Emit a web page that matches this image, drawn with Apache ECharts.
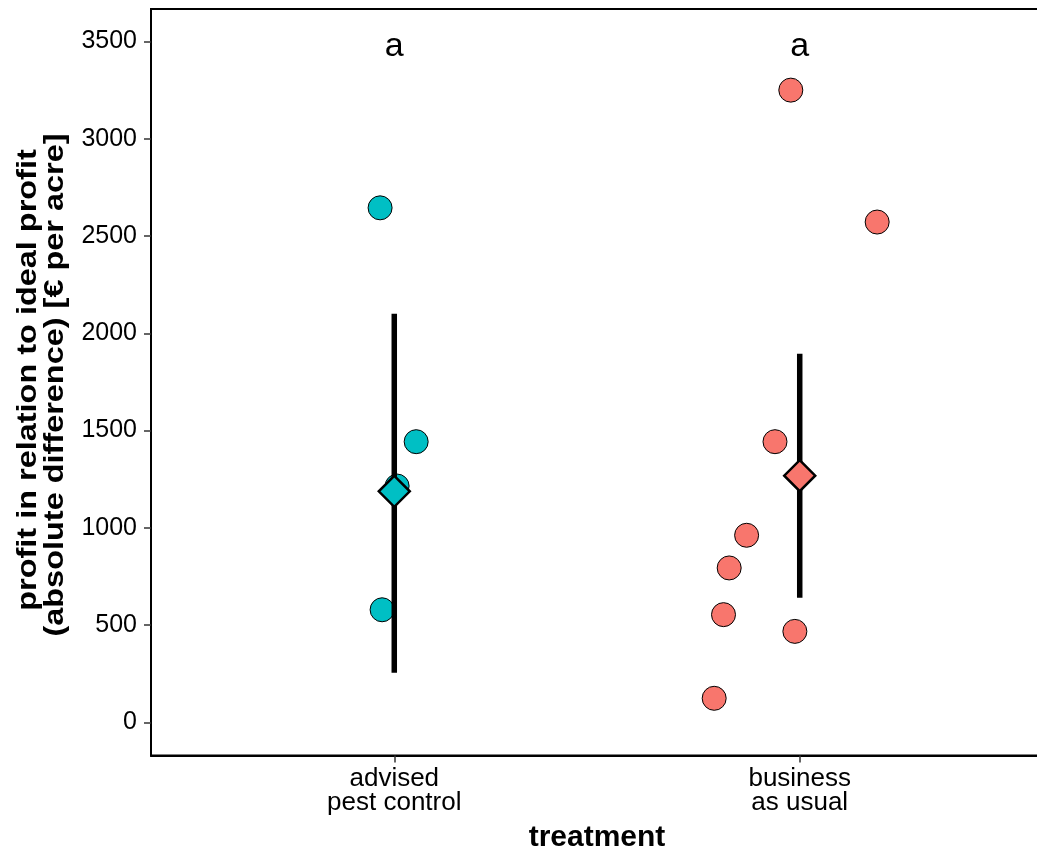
<!DOCTYPE html>
<html>
<head>
<meta charset="utf-8">
<script src="https://cdn.jsdelivr.net/npm/echarts@6/dist/echarts.min.js"></script>
<style>
html,body{margin:0;padding:0;background:#fff;}
#chart{width:1037px;height:857px;}
</style>
</head>
<body>
<div id="chart"></div>
<script>
// ---- data ----
const categories = ['advised\npest control', 'business\nas usual'];
const groupColors = ['#00BFC4', '#F8766D'];
// jittered horizontal positions (category units, 1 = first category)
const advisedX = [0.965, 1.054, 1.007, 0.970];
const advisedY = [2645, 1443, 1215, 579];
const businessX = [1.978, 2.191, 1.939, 1.869, 1.826, 1.812, 1.988, 1.789];
const businessY = [3250, 2572, 1443, 962, 794, 554, 468, 124];
const meanValues = [1188, 1268];
const lowerValues = [255, 641];
const upperValues = [2100, 1895];
const letters = ['a', 'a'];
const letterY = 3500;
const yTicks = [0, 500, 1000, 1500, 2000, 2500, 3000, 3500];
const yTitleLines = ['profit in relation to ideal profit', '(absolute difference) [€ per acre]'];
const xTitle = 'treatment';

const FONT = '"Liberation Sans", Arial, sans-serif';

const chart = echarts.init(document.getElementById('chart'), null, {renderer: 'canvas'});

const option = {
  animation: false,
  backgroundColor: '#ffffff',
  grid: {
    left: 151, top: 9, width: 892, height: 746.5,
    outerBoundsMode: 'none', containLabel: false,
    show: true, borderColor: '#000', borderWidth: 2, backgroundColor: 'transparent'
  },
  graphic: [
    {
      type: 'text', x: 28, y: 380, rotation: Math.PI / 2, scaleX: 1.18, scaleY: 1,
      style: {text: yTitleLines[0], font: 'bold 27.5px ' + FONT, fill: '#000', align: 'center', verticalAlign: 'middle'}
    },
    {
      type: 'text', x: 55.5, y: 385, rotation: Math.PI / 2, scaleX: 1.18, scaleY: 1,
      style: {text: yTitleLines[1], font: 'bold 27.5px ' + FONT, fill: '#000', align: 'center', verticalAlign: 'middle'}
    }
  ],
  xAxis: {
    type: 'value', min: 0.4, max: 2.6,
    name: xTitle, nameLocation: 'middle', nameGap: 67,
    nameTextStyle: {fontFamily: FONT, fontWeight: 'bold', fontSize: 30, color: '#000'},
    axisLine: {show: true, onZero: false, lineStyle: {color: '#000', width: 2}},
    axisTick: {show: true, length: 7, customValues: [1, 2], lineStyle: {color: '#333', width: 1.5}},
    axisLabel: {
      show: true, customValues: [1, 2], margin: 11,
      fontFamily: FONT, fontSize: 26, lineHeight: 24, color: '#000',
      formatter: v => categories[Math.round(v) - 1] || ''
    },
    splitLine: {show: false}
  },
  yAxis: {
    type: 'value', min: -170, max: 3667,
    axisLine: {show: true, onZero: false, lineStyle: {color: '#000', width: 2}},
    axisTick: {show: true, length: 7, customValues: yTicks, lineStyle: {color: '#333', width: 1.5}},
    axisLabel: {
      show: true, customValues: yTicks, margin: 14, fontFamily: FONT, fontSize: 25, color: '#000',
      formatter: v => String(v)
    },
    splitLine: {show: false}
  },
  series: [
    {
      type: 'scatter', name: 'advised', z: 2,
      data: advisedX.map((x, i) => [x, advisedY[i]]),
      symbol: 'circle', symbolSize: 24,
      itemStyle: {color: groupColors[0], borderColor: '#000', borderWidth: 1, opacity: 1}
    },
    {
      type: 'scatter', name: 'business', z: 2,
      data: businessX.map((x, i) => [x, businessY[i]]),
      symbol: 'circle', symbolSize: 24,
      itemStyle: {color: groupColors[1], borderColor: '#000', borderWidth: 1, opacity: 1}
    },
    {
      type: 'custom', name: 'interval', z: 3,
      data: categories.map((c, i) => [i + 1, lowerValues[i], upperValues[i]]),
      renderItem: function (params, api) {
        const p1 = api.coord([api.value(0), api.value(1)]);
        const p2 = api.coord([api.value(0), api.value(2)]);
        return {
          type: 'line',
          shape: {x1: p1[0], y1: p1[1], x2: p2[0], y2: p2[1]},
          style: {stroke: '#000', lineWidth: 5.5}
        };
      }
    },
    {
      type: 'scatter', name: 'mean', z: 4,
      data: meanValues.map((v, i) => ({value: [i + 1, v], itemStyle: {color: groupColors[i]}})),
      symbol: 'diamond', symbolSize: [31, 31],
      itemStyle: {borderColor: '#000', borderWidth: 2.5, opacity: 1}
    },
    {
      type: 'custom', name: 'letters', z: 5,
      data: letters.map((l, i) => [i + 1, letterY]),
      renderItem: function (params, api) {
        const p = api.coord([api.value(0), api.value(1)]);
        return {
          type: 'text', x: p[0], y: p[1] + 5,
          style: {
            text: letters[params.dataIndex], font: '34px ' + FONT, fill: '#000',
            align: 'center', verticalAlign: 'middle'
          }
        };
      }
    }
  ]
};
chart.setOption(option);
</script>
</body>
</html>
